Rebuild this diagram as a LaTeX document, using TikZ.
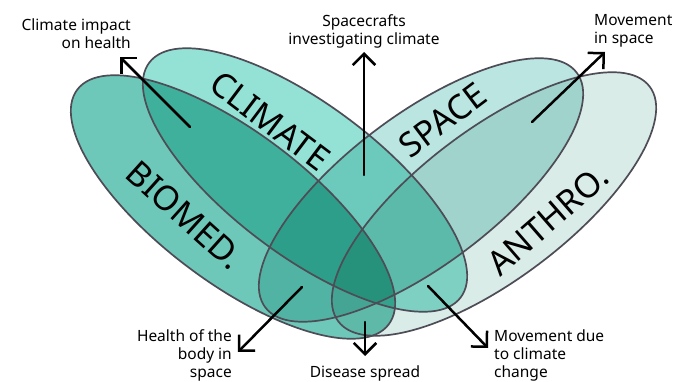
\documentclass[tikz,border=0pt]{standalone}
\usepackage{fontspec}
\setmainfont{Noto Sans}
\usetikzlibrary{arrows.meta}
\definecolor{biomedfill}{RGB}{110,200,186}
\definecolor{climatefill}{RGB}{148,225,214}
\definecolor{spacefill}{RGB}{186,229,224}
\definecolor{anthrofill}{RGB}{218,236,232}
\definecolor{pencil}{RGB}{78,76,86}
\begin{document}
\begin{tikzpicture}[x=1pt,y=1pt,
  blob/.style={draw=pencil,line width=1.7pt},
  areatag/.style={font=\fontsize{34}{38}\selectfont,inner sep=0pt},
  linktag/.style={font=\fontsize{15.5}{18}\selectfont,inner sep=0pt},
  link/.style={-{Straight Barb[angle=90:16pt]},line width=2.5pt,line cap=round}]
\useasboundingbox (0,0) rectangle (681,381);
% watercolour areas
\begin{scope}[blend mode=multiply]
\fill[biomedfill,rotate around={-37:(233,174)}] (233,174) ellipse[x radius=195,y radius=75];
\fill[climatefill,rotate around={-37:(305,201)}] (305,201) ellipse[x radius=195,y radius=75];
\fill[spacefill,rotate around={37:(421,191)}] (421,191) ellipse[x radius=195,y radius=75];
\fill[anthrofill,rotate around={37:(494,177)}] (494,177) ellipse[x radius=195,y radius=75];
\end{scope}
\draw[blob,rotate around={-37:(233,174)}] (233,174) ellipse[x radius=195,y radius=75];
\draw[blob,rotate around={-37:(305,201)}] (305,201) ellipse[x radius=195,y radius=75];
\draw[blob,rotate around={37:(421,191)}] (421,191) ellipse[x radius=195,y radius=75];
\draw[blob,rotate around={37:(494,177)}] (494,177) ellipse[x radius=195,y radius=75];
% area names
\node[areatag,rotate=-37] (climate) at (270,260) {CLIMATE};
\node[areatag,rotate=-42] (biomed) at (185,166) {BIOMED.};
\node[areatag,rotate=37] (space) at (443,261) {SPACE};
\node[areatag,rotate=41] (anthro) at (548,161) {ANTHRO.};
% overlap labels
\node[linktag,anchor=east,align=right] (health) at (131,347) {Climate impact\\on health};
\node[linktag,align=center] (probes) at (364,350) {Spacecrafts\\investigating climate};
\node[linktag,anchor=west,align=left] (travel) at (594,350) {Movement\\in space};
\node[linktag,anchor=east,align=right] (body) at (232,26) {Health of the\\body in\\space};
\node[linktag] (disease) at (365,8) {Disease spread};
\node[linktag,anchor=west,align=left] (migration) at (494,26) {Movement due\\to climate\\change};
% arrows
\coordinate (h0) at (190,254); \coordinate (h1) at (120,324);
\coordinate (p0) at (364,206); \coordinate (p1) at (364,329);
\coordinate (t0) at (532,259); \coordinate (t1) at (605,329);
\coordinate (b0) at (302,94);  \coordinate (b1) at (238,29);
\coordinate (d0) at (365,59);  \coordinate (d1) at (365,25);
\coordinate (m0) at (428,95);  \coordinate (m1) at (488,33);
\draw[link] (h0) -- (h1);
\draw[link] (p0) -- (p1);
\draw[link] (t0) -- (t1);
\draw[link] (b0) -- (b1);
\draw[link] (d0) -- (d1);
\draw[link] (m0) -- (m1);
\end{tikzpicture}
\end{document}
